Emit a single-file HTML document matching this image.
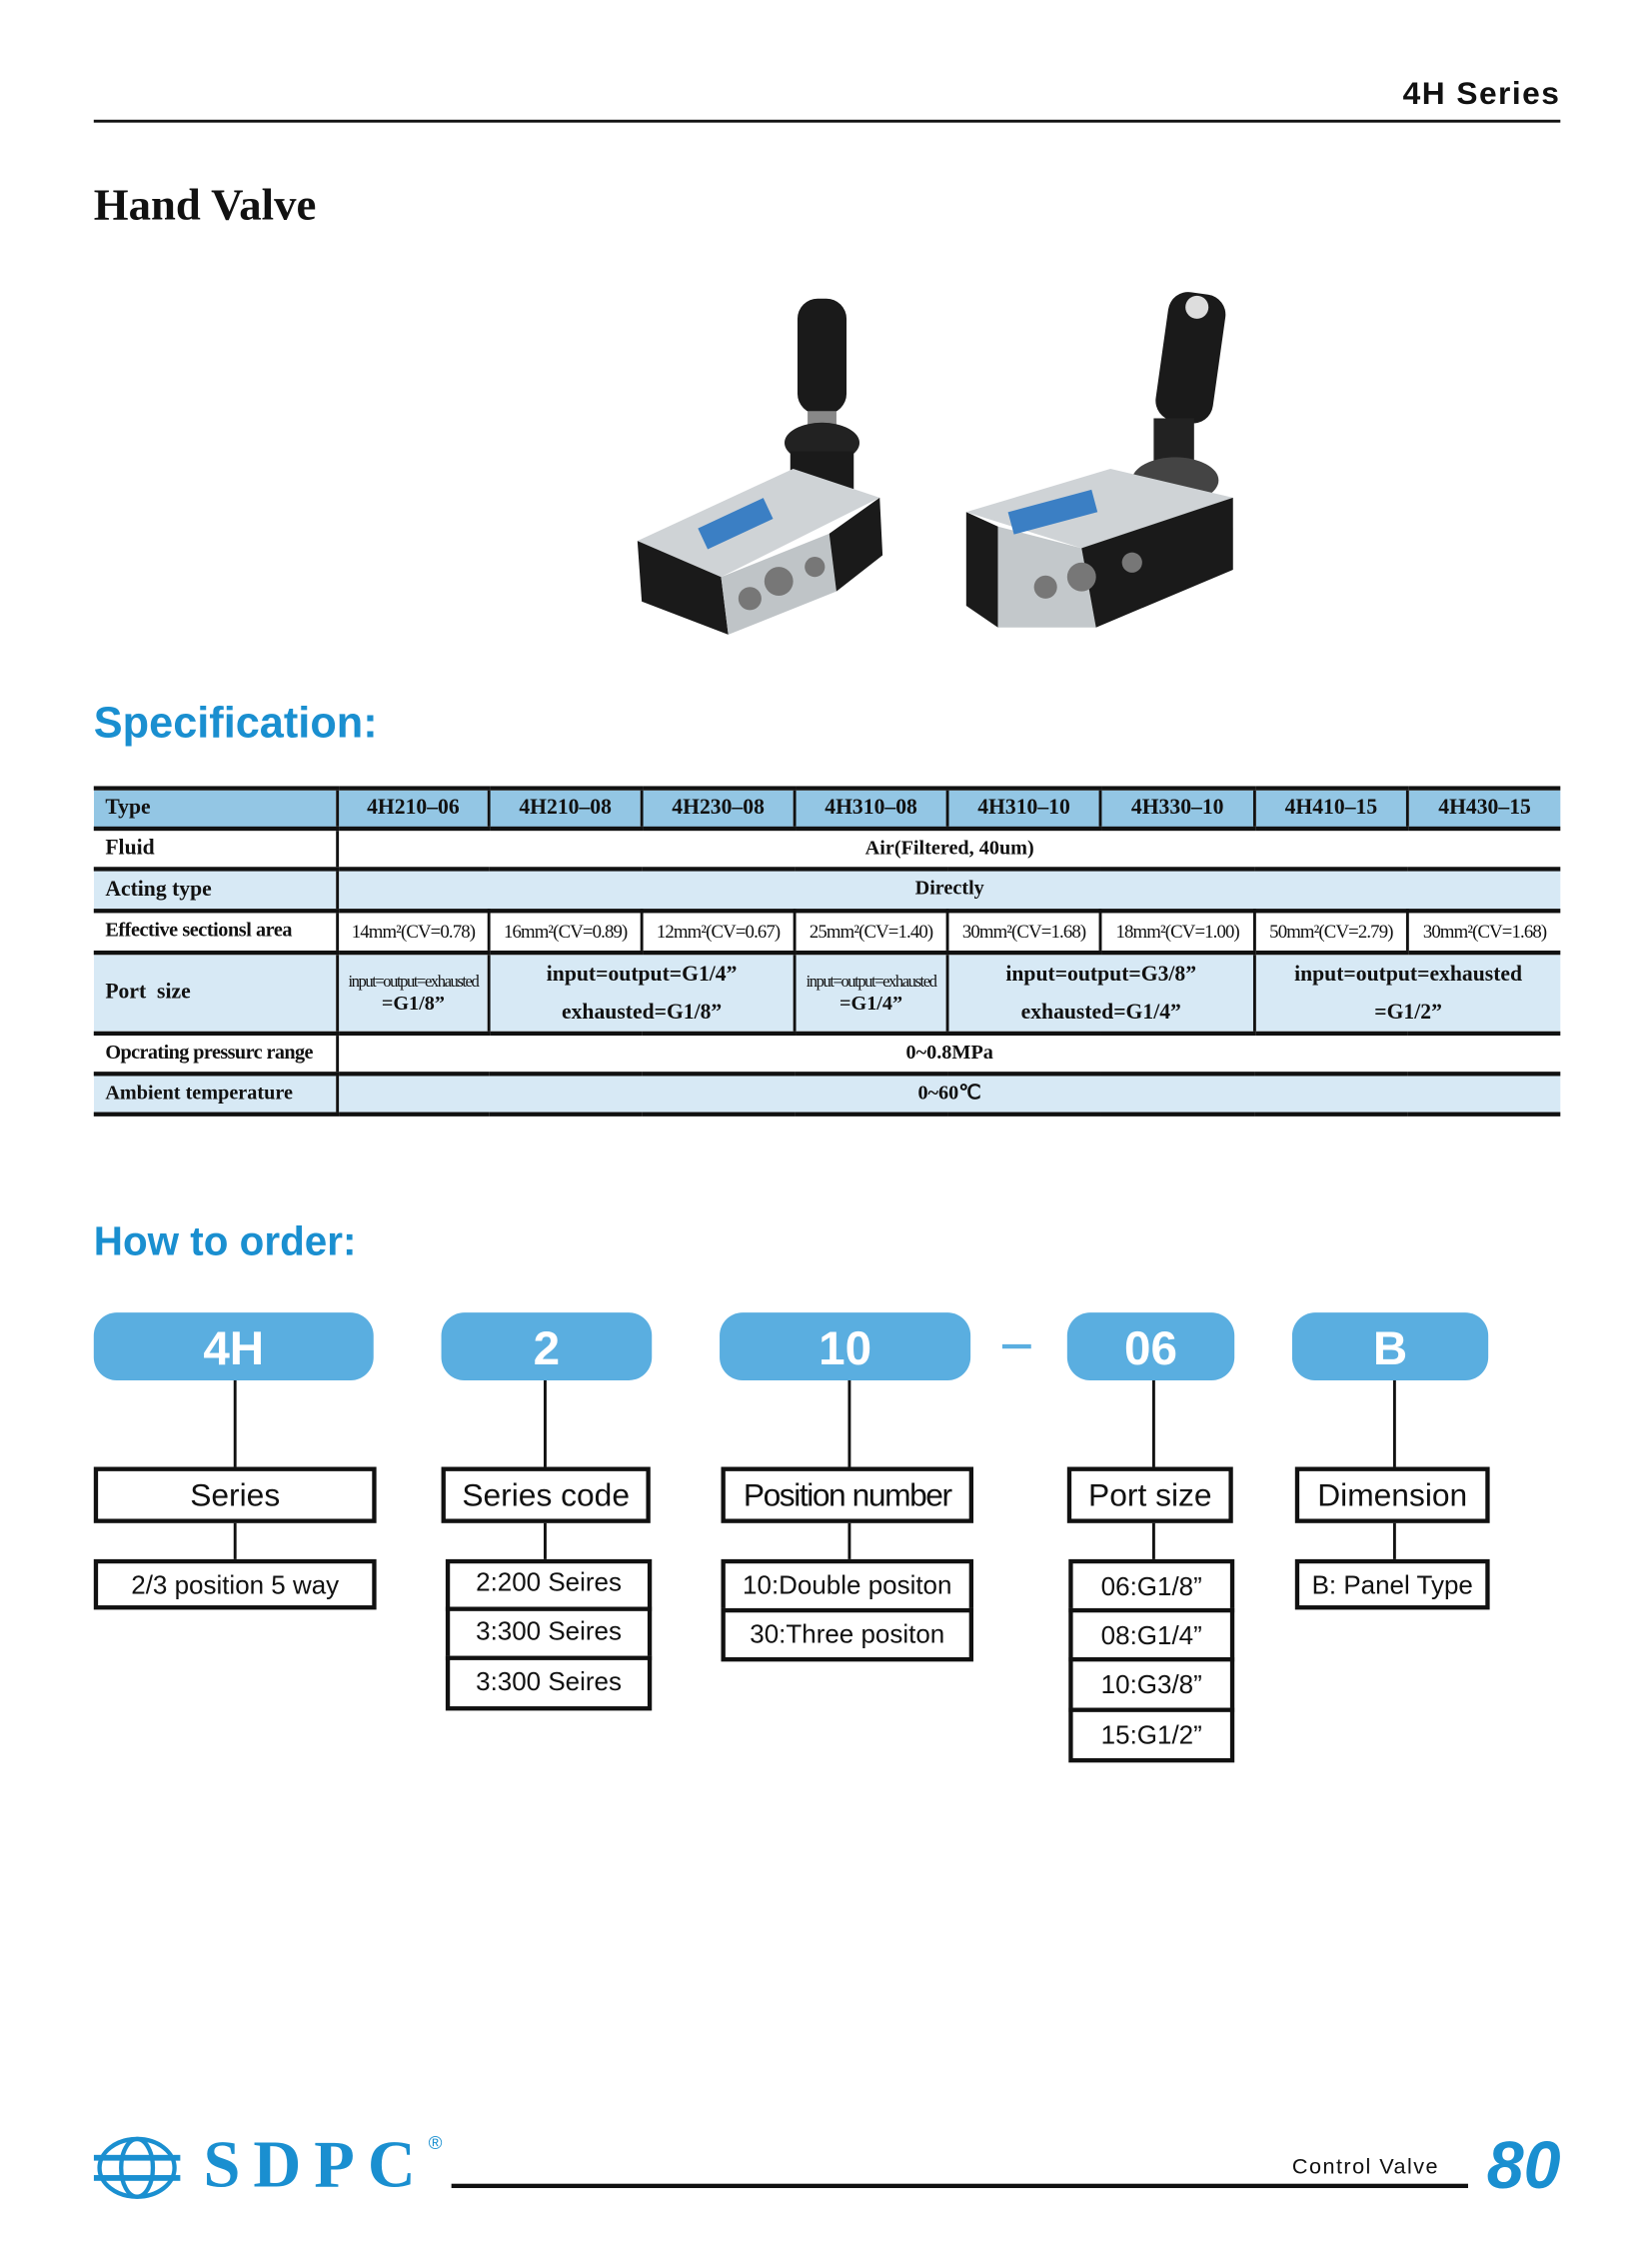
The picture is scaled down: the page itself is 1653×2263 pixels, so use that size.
<!DOCTYPE html>
<html><head><meta charset="utf-8"><style>
html,body{margin:0;padding:0;background:#fff;}
body{width:1653px;height:2262px;overflow:hidden;position:relative;}
#w{position:absolute;left:0;top:0;width:1146px;height:1568px;transform:scale(1.443);transform-origin:0 0;font-family:"Liberation Sans",sans-serif;}
.a{position:absolute;}
.serif{font-family:"Liberation Serif",serif;}
.pill{position:absolute;top:910px;height:47px;background:#5aaee0;border-radius:16px;color:#fff;font-weight:bold;font-size:33px;text-align:center;line-height:49px;}
.vl{position:absolute;width:2px;background:#111;}
.bx{position:absolute;border:3px solid #111;box-sizing:border-box;text-align:center;color:#111;background:#fff;}
.nm{font-size:22px;}
.op{font-size:18px;}
table{position:absolute;left:65px;top:545px;width:1017px;border-collapse:collapse;font-family:"Liberation Serif",serif;font-weight:bold;font-size:14px;color:#111;}
td{border-top:3px solid #111;border-bottom:3px solid #111;border-left:2px solid #111;text-align:center;padding:0;overflow:hidden;white-space:nowrap;}
td:first-child{border-left:none;text-align:left;padding-left:8px;}
.h td{background:#93c6e4;font-size:15px;}
.lb td{background:#d7e9f5;}
.sm{font-size:13px;font-weight:normal;letter-spacing:-0.6px;}
.xs{font-size:11.5px;font-weight:normal;letter-spacing:-1px;}
</style></head><body><div id="w">
<div class="a" style="right:64px;top:52px;font-size:22px;font-weight:bold;letter-spacing:1px;color:#111;">4H Series</div>
<div class="a" style="left:65px;top:83px;width:1017px;height:2px;background:#111;"></div>
<div class="a serif" style="left:65px;top:124px;font-size:31px;font-weight:bold;color:#111;">Hand Valve</div>

<svg class="a" style="left:430px;top:195px" width="440" height="250">
 <rect x="123" y="12" width="34" height="80" rx="14" fill="#1a1a1a"/>
 <rect x="130" y="90" width="20" height="16" fill="#888"/>
 <ellipse cx="140" cy="112" rx="26" ry="14" fill="#222"/>
 <rect x="118" y="118" width="44" height="26" fill="#1a1a1a"/>
 <polygon points="12,180 120,130 180,150 70,205" fill="#cfd3d6"/>
 <polygon points="12,180 70,205 75,245 15,222" fill="#1a1a1a"/>
 <polygon points="70,205 145,175 150,215 75,245" fill="#bfc4c7"/>
 <polygon points="145,175 180,150 182,190 150,215" fill="#1a1a1a"/>
 <rect x="55" y="160" width="50" height="16" fill="#3b7fc4" transform="rotate(-25 80 168)"/>
 <circle cx="90" cy="220" r="8" fill="#777"/><circle cx="110" cy="208" r="10" fill="#777"/><circle cx="135" cy="198" r="7" fill="#777"/>
 <rect x="376" y="8" width="40" height="90" rx="14" fill="#1a1a1a" transform="rotate(8 396 50)"/>
 <circle cx="400" cy="18" r="8" fill="#ddd"/>
 <rect x="370" y="95" width="28" height="30" fill="#222"/>
 <ellipse cx="385" cy="138" rx="30" ry="16" fill="#444"/>
 <polygon points="240,160 340,130 425,150 320,185" fill="#cfd3d6"/>
 <polygon points="240,160 262,170 262,240 240,225" fill="#1a1a1a"/>
 <polygon points="262,170 320,185 330,240 262,240" fill="#c3c8cb"/>
 <polygon points="320,185 425,150 425,200 330,240" fill="#1a1a1a"/>
 <rect x="270" y="152" width="60" height="16" fill="#3b7fc4" transform="rotate(-15 300 160)"/>
 <circle cx="295" cy="212" r="8" fill="#777"/><circle cx="320" cy="205" r="10" fill="#777"/><circle cx="355" cy="195" r="7" fill="#777"/>
</svg>

<div class="a" style="left:65px;top:485px;font-size:30px;font-weight:bold;color:#1a8fd0;">Specification:</div>

<table>
<colgroup><col style="width:169px"><col style="width:105px"><col style="width:106px"><col style="width:106px"><col style="width:106px"><col style="width:106px"><col style="width:107px"><col style="width:106px"><col style="width:106px"></colgroup>
<tr class="h" style="height:28px"><td>Type</td><td>4H210–06</td><td>4H210–08</td><td>4H230–08</td><td>4H310–08</td><td>4H310–10</td><td>4H330–10</td><td>4H410–15</td><td>4H430–15</td></tr>
<tr style="height:28px"><td style="font-size:15px">Fluid</td><td colspan="8">Air(Filtered, 40um)</td></tr>
<tr class="lb" style="height:29px"><td style="font-size:15px">Acting type</td><td colspan="8">Directly</td></tr>
<tr style="height:29px"><td style="font-size:14px;letter-spacing:-0.3px">Effective sectionsl area</td><td class="sm">14mm²(CV=0.78)</td><td class="sm">16mm²(CV=0.89)</td><td class="sm">12mm²(CV=0.67)</td><td class="sm">25mm²(CV=1.40)</td><td class="sm">30mm²(CV=1.68)</td><td class="sm">18mm²(CV=1.00)</td><td class="sm">50mm²(CV=2.79)</td><td class="sm">30mm²(CV=1.68)</td></tr>
<tr class="lb" style="height:56px"><td style="font-size:15px">Port&nbsp; size</td><td><span class="xs">input=output=exhausted</span><br>=G1/8”</td><td colspan="2" style="font-size:15px;line-height:26px">input=output=G1/4”<br>exhausted=G1/8”</td><td><span class="xs">input=output=exhausted</span><br>=G1/4”</td><td colspan="2" style="font-size:15px;line-height:26px">input=output=G3/8”<br>exhausted=G1/4”</td><td colspan="2" style="font-size:15px;line-height:26px">input=output=exhausted<br>=G1/2”</td></tr>
<tr style="height:28px"><td style="font-size:14px;letter-spacing:-0.4px">Opcrating pressurc range</td><td colspan="8">0~0.8MPa</td></tr>
<tr class="lb" style="height:28px"><td style="font-size:14px">Ambient temperature</td><td colspan="8">0~60℃</td></tr>
</table>

<div class="a" style="left:65px;top:845px;font-size:28px;font-weight:bold;color:#1a8fd0;">How to order:</div>

<div class="pill" style="left:65px;width:194px;">4H</div>
<div class="pill" style="left:306px;width:146px;">2</div>
<div class="pill" style="left:499px;width:174px;">10</div>
<div class="a" style="left:695px;top:932px;width:20px;height:3px;background:#5aaee0;"></div>
<div class="pill" style="left:740px;width:116px;">06</div>
<div class="pill" style="left:896px;width:136px;">B</div>

<div class="vl" style="left:162px;top:957px;height:125px"></div>
<div class="vl" style="left:377px;top:957px;height:125px"></div>
<div class="vl" style="left:588px;top:957px;height:125px"></div>
<div class="vl" style="left:799px;top:957px;height:125px"></div>
<div class="vl" style="left:966px;top:957px;height:125px"></div>

<div class="bx nm" style="left:65px;top:1017px;width:196px;height:39px;line-height:33px;">Series</div>
<div class="bx nm" style="left:306px;top:1017px;width:145px;height:39px;line-height:33px;">Series code</div>
<div class="bx nm" style="left:500px;top:1017px;width:175px;height:39px;line-height:33px;letter-spacing:-1px;">Position number</div>
<div class="bx nm" style="left:740px;top:1017px;width:115px;height:39px;line-height:33px;">Port size</div>
<div class="bx nm" style="left:898px;top:1017px;width:135px;height:39px;line-height:33px;">Dimension</div>

<div class="bx op" style="left:65px;top:1081px;width:196px;height:35px;line-height:31px;">2/3 position 5 way</div>

<div class="bx op" style="left:309px;top:1081px;width:143px;height:36px;line-height:26px;">2:200 Seires</div>
<div class="bx op" style="left:309px;top:1114px;width:143px;height:37px;line-height:29px;">3:300 Seires</div>
<div class="bx op" style="left:309px;top:1148px;width:143px;height:38px;line-height:30px;">3:300 Seires</div>

<div class="bx op" style="left:500px;top:1081px;width:175px;height:37px;line-height:31px;">10:Double positon</div>
<div class="bx op" style="left:500px;top:1115px;width:175px;height:37px;line-height:31px;">30:Three positon</div>

<div class="bx op" style="left:741px;top:1081px;width:115px;height:37px;line-height:33px;">06:G1/8”</div>
<div class="bx op" style="left:741px;top:1115px;width:115px;height:37px;line-height:33px;">08:G1/4”</div>
<div class="bx op" style="left:741px;top:1149px;width:115px;height:38px;line-height:33px;">10:G3/8”</div>
<div class="bx op" style="left:741px;top:1184px;width:115px;height:38px;line-height:33px;">15:G1/2”</div>

<div class="bx op" style="left:898px;top:1081px;width:135px;height:35px;line-height:31px;">B: Panel Type</div>

<svg class="a" style="left:65px;top:1480px" width="62" height="46">
 <ellipse cx="30" cy="23" rx="26" ry="20" fill="none" stroke="#1a8fd0" stroke-width="3"/>
 <ellipse cx="30" cy="23" rx="11" ry="20" fill="none" stroke="#1a8fd0" stroke-width="3"/>
 <rect x="0" y="14" width="60" height="4" fill="#1a8fd0"/>
 <rect x="0" y="28" width="60" height="4" fill="#1a8fd0"/>
</svg>
<div class="a serif" style="left:141px;top:1474px;font-size:46px;font-weight:bold;color:#1a8fd0;letter-spacing:9px;">SDPC</div>
<div class="a" style="left:297px;top:1478px;font-size:13px;color:#1a8fd0;">®</div>
<div class="a" style="left:313px;top:1514px;width:705px;height:3px;background:#111;"></div>
<div class="a" style="left:896px;top:1494px;font-size:15px;color:#111;letter-spacing:1px;">Control Valve</div>
<div class="a" style="left:1031px;top:1474px;font-size:46px;font-weight:bold;font-style:italic;color:#1a8fd0;">80</div>
</div></body></html>
